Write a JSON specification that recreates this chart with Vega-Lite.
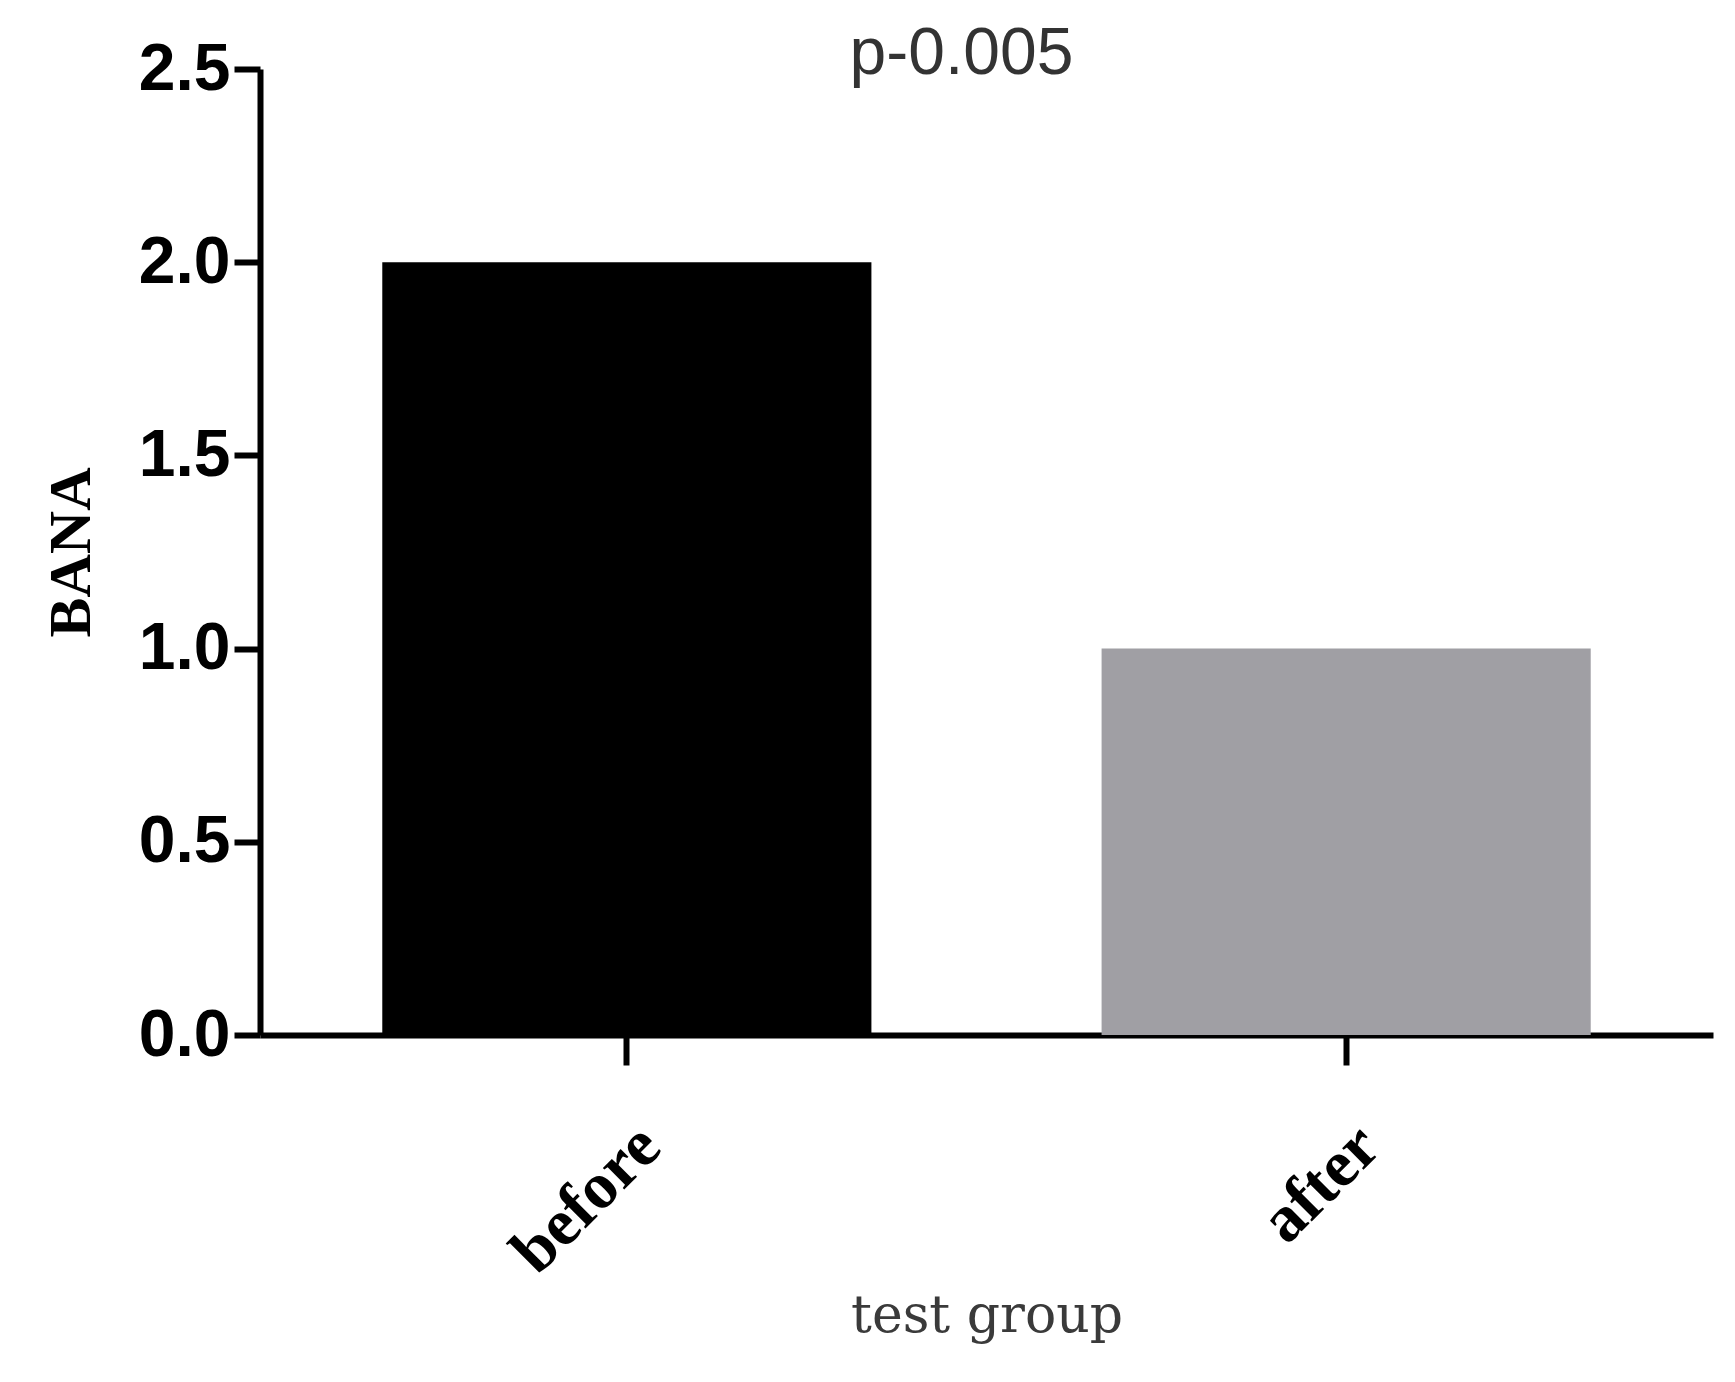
{
  "$schema": "https://vega.github.io/schema/vega-lite/v6.json",
  "autosize": {"type": "none"},
  "padding": {"left": 260, "top": 69, "right": 22, "bottom": 347},
  "width": 1453,
  "height": 966,
  "background": "white",
  "title": {
    "text": "p-0.005",
    "font": "Liberation Sans",
    "fontSize": 66,
    "fontWeight": "normal",
    "color": "#333333",
    "anchor": "middle",
    "dx": -25,
    "offset": -52
  },
  "data": {
    "values": [
      {"group": "before", "BANA": 2.0},
      {"group": "after", "BANA": 1.0}
    ]
  },
  "mark": {"type": "bar"},
  "encoding": {
    "x": {
      "field": "group",
      "type": "nominal",
      "sort": ["before", "after"],
      "scale": {"paddingInner": 0.32, "paddingOuter": 0.17},
      "axis": {
        "title": "test group",
        "titleFont": "DejaVu Serif",
        "titleFontSize": 52,
        "titleFontWeight": "normal",
        "titleColor": "#3a3a3a",
        "titlePadding": 55,
        "labelAngle": -45,
        "labelAlign": "right",
        "labelBaseline": "top",
        "labelFont": "Liberation Serif",
        "labelFontSize": 66,
        "labelFontWeight": "bold",
        "labelColor": "#000000",
        "labelPadding": 48,
        "domainColor": "#000000",
        "domainWidth": 6,
        "tickColor": "#000000",
        "tickWidth": 6,
        "tickSize": 30,
        "grid": false
      }
    },
    "y": {
      "field": "BANA",
      "type": "quantitative",
      "scale": {"domain": [0, 2.5]},
      "axis": {
        "title": "BANA",
        "titleFont": "Liberation Serif",
        "titleFontSize": 60,
        "titleFontWeight": "bold",
        "titleColor": "#000000",
        "titlePadding": 36,
        "values": [0, 0.5, 1, 1.5, 2, 2.5],
        "format": ".1f",
        "labelFont": "Liberation Sans",
        "labelFontSize": 66,
        "labelFontWeight": "bold",
        "labelColor": "#000000",
        "labelPadding": 4,
        "domainColor": "#000000",
        "domainWidth": 6,
        "tickColor": "#000000",
        "tickWidth": 6,
        "tickSize": 26,
        "grid": false
      }
    },
    "color": {
      "field": "group",
      "type": "nominal",
      "scale": {"domain": ["before", "after"], "range": ["#000000", "#a09fa4"]},
      "legend": null
    }
  },
  "config": {"view": {"stroke": null}}
}
